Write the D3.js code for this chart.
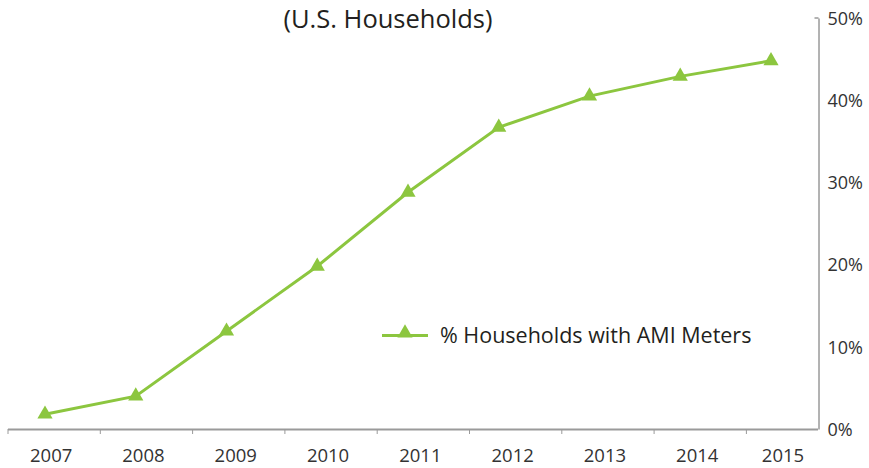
<!DOCTYPE html>
<html><head><meta charset="utf-8">
<script src="https://cdn.jsdelivr.net/npm/d3@7"></script>
<style>body{margin:0;background:#fff;}svg{display:block;font-family:"Open Sans","Lato",sans-serif;}</style>
</head><body>
<script>
const years = ["2007","2008","2009","2010","2011","2012","2013","2014","2015"];
const pctHouseholds = [1.8, 4.0, 11.9, 19.8, 28.8, 36.7, 40.5, 42.9, 44.8];
const yTicks = [0, 10, 20, 30, 40, 50];
const title = "(U.S. Households)";
const seriesName = "% Households with AMI Meters";

const W = 869, H = 468;
const green = "#8cc63f";
const svg = d3.select("body").append("svg").attr("width", W).attr("height", H);

const xBand = d3.scaleBand().domain(years).range([8, 838.7]).padding(0);
const xPt = d3.scalePoint().domain(years).range([45, 771]);
const y = d3.scaleLinear().domain([0, 50]).range([429, 18]);

// title
svg.append("text").attr("x", 388).attr("y", 28).attr("text-anchor", "middle")
  .attr("font-size", 25.5).attr("fill", "#231f20").text(title);

// x axis
const xg = svg.append("g");
xg.append("line").attr("x1", 8).attr("x2", 818).attr("y1", 429.5).attr("y2", 429.5)
  .attr("stroke", "#9a9a9a").attr("stroke-width", 2);
xg.selectAll("line.tick").data(years).join("line").attr("class", "tick")
  .attr("x1", d => xBand(d)).attr("x2", d => xBand(d)).attr("y1", 429).attr("y2", 434)
  .attr("stroke", "#9a9a9a").attr("stroke-width", 1);
xg.selectAll("text").data(years).join("text")
  .attr("x", (d, i) => i === years.length - 1 ? 783 : xBand(d) + xBand.bandwidth() / 2 - 3)
  .attr("y", 462).attr("text-anchor", "middle").attr("font-size", 18.5).attr("fill", "#333")
  .text(d => d);

// y axis
const yAxis = d3.axisRight(y).tickValues(yTicks).tickSize(0).tickPadding(10).tickFormat(d => d + "%");
const yg = svg.append("g").attr("transform", "translate(818.5,0)").call(yAxis);
yg.select(".domain").attr("stroke", "#666").attr("stroke-width", 1);
yg.selectAll("text").attr("font-size", 18).attr("fill", "#333").attr("font-family", "'Open Sans',sans-serif").attr("dy", "0.35em").attr("x", 9);
yg.append("line").attr("x1", -4).attr("x2", 0).attr("y1", y(50)).attr("y2", y(50)).attr("stroke", "#666");

// line
const line = d3.line().x((d, i) => xPt(years[i])).y(d => y(d));
svg.append("path").datum(pctHouseholds).attr("d", line).attr("fill", "none")
  .attr("stroke", green).attr("stroke-width", 3);

const tri = d3.symbol().type(d3.symbolTriangle).size(100);
svg.selectAll("path.mk").data(pctHouseholds).join("path").attr("class", "mk")
  .attr("d", tri).attr("fill", green)
  .attr("transform", (d, i) => `translate(${xPt(years[i])},${y(d)})`);

// legend
const lg = svg.append("g");
lg.append("line").attr("x1", 382).attr("x2", 428).attr("y1", 335.5).attr("y2", 335.5)
  .attr("stroke", green).attr("stroke-width", 3);
lg.append("path").attr("d", tri).attr("fill", green).attr("transform", "translate(405,333)");
lg.append("text").attr("x", 440).attr("y", 343).attr("font-size", 21.5).attr("fill", "#231f20").text(seriesName);
</script>
</body></html>
